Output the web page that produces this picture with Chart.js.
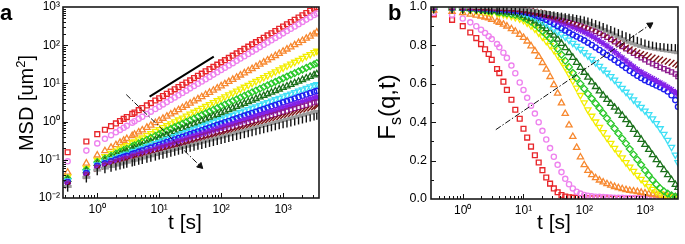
<!DOCTYPE html>
<html><head><meta charset="utf-8">
<script src="https://cdn.jsdelivr.net/npm/chart.js@4.4.1/dist/chart.umd.min.js"></script>
<style>
html,body{margin:0;padding:0;background:#fff;}
body{width:685px;height:244px;overflow:hidden;position:relative;}
canvas{position:absolute;top:0;}
</style>
</head><body>
<canvas id="ca" width="342" height="244" style="left:0px"></canvas>
<canvas id="cb" width="343" height="244" style="left:342px"></canvas>
<script>
// ---------- shared lag times [s] ----------
const times = [0.333,0.667,1,1.33,1.67,2,2.33,2.67,3,3.67,4,4.67,5.33,6.33,7.33,8.67,10,11.5,13.3,15.4,17.8,20.5,23.7,27.4,31.6,36.5,42.2,48.7,56.2,64.9,75,86.6,100,115,133,154,178,205,237,274,316,365,422,487,562,649,750,866,1000,1155,1334,1540,1778,2054,2371,2738,3162,3500];

// ---------- panel a: MSD [um^2] ----------
const msdRed = [0.158,0.302,0.468,0.612,0.758,0.897,1.035,1.179,1.313,1.589,1.722,1.99,2.256,2.648,3.042,3.563,4.074,4.664,5.34,6.11,7.00,8.01,9.17,10.5,12.0,13.8,15.8,18.0,20.7,23.6,27.1,31.0,35.5,40.6,46.5,53.2,61.0,69.8,79.9,91.5,105,120,137,157,180,206,236,270,309,354,405,464,531,608,696,796,912,1003];
const msdViolet = [0.0912,0.174,0.269,0.354,0.441,0.524,0.605,0.692,0.773,0.938,1.019,1.18,1.343,1.581,1.82,2.138,2.455,2.818,3.236,3.715,4.266,4.898,5.623,6.457,7.413,8.511,9.772,11.22,12.88,14.79,16.98,19.5,22.39,25.7,29.51,33.88,38.9,44.67,51.29,58.88,67.61,77.62,89.13,102.3,117.5,134.9,154.9,177.8,204.2,234.4,269.2,309,354.8,407.4,467.7,537,616.6,679];
const msdOrange = [0.0468,0.0813,0.132,0.171,0.210,0.247,0.284,0.321,0.357,0.428,0.463,0.532,0.601,0.701,0.801,0.933,1.062,1.209,1.378,1.570,1.789,2.038,2.322,2.645,3.013,3.433,3.911,4.456,5.077,5.784,6.590,7.506,8.551,9.741,11.10,12.65,14.41,16.41,18.70,21.30,24.27,27.65,31.50,35.89,40.89,46.58,53.07,60.46,68.87,78.47,89.40,101.8,116.0,132.2,150.6,171.6,195.4,219];
const msdYellow = [0.0355,0.0603,0.0977,0.123,0.148,0.171,0.193,0.216,0.237,0.279,0.299,0.338,0.377,0.432,0.487,0.557,0.625,0.702,0.788,0.885,0.994,1.116,1.254,1.408,1.581,1.776,1.994,2.239,2.515,2.824,3.172,3.562,4.000,4.492,5.045,5.665,6.362,7.144,8.023,9.010,10.12,11.36,12.76,14.33,16.09,18.07,20.29,22.79,25.59,28.74,32.27,36.24,40.70,45.71,51.33,57.64,64.71,70.2];
const msdGreen = [0.0324,0.0550,0.0871,0.107,0.127,0.145,0.162,0.179,0.194,0.225,0.240,0.269,0.296,0.335,0.374,0.422,0.469,0.521,0.579,0.643,0.714,0.793,0.881,0.979,1.088,1.208,1.342,1.491,1.657,1.840,2.044,2.272,2.523,2.803,3.114,3.459,3.843,4.270,4.745,5.269,5.854,6.504,7.224,8.025,8.916,9.904,11.00,12.22,13.58,15.09,16.76,18.62,20.68,22.98,25.53,28.35,31.50,33.95];
const msdDarkGreen = [0.0302,0.0513,0.0794,0.0960,0.112,0.126,0.139,0.152,0.165,0.188,0.199,0.221,0.241,0.270,0.298,0.332,0.366,0.402,0.442,0.487,0.536,0.589,0.648,0.713,0.784,0.863,0.949,1.044,1.149,1.264,1.390,1.530,1.683,1.851,2.037,2.240,2.465,2.712,2.983,3.281,3.610,3.971,4.369,4.806,5.288,5.818,6.400,7.041,7.745,8.520,9.372,10.31,11.34,12.48,13.73,15.10,16.61,17.77];
const msdCyan = [0.0282,0.0479,0.0741,0.0878,0.101,0.112,0.123,0.133,0.142,0.161,0.169,0.185,0.200,0.222,0.242,0.268,0.291,0.317,0.345,0.376,0.410,0.446,0.486,0.530,0.577,0.628,0.684,0.745,0.812,0.884,0.963,1.049,1.143,1.245,1.356,1.477,1.609,1.752,1.909,2.079,2.265,2.467,2.687,2.927,3.188,3.472,3.782,4.120,4.487,4.888,5.324,5.799,6.317,6.880,7.494,8.164,8.892,9.44];
const msdBlue = [0.0263,0.0447,0.0692,0.0810,0.0919,0.102,0.111,0.119,0.127,0.142,0.149,0.162,0.175,0.192,0.209,0.229,0.248,0.268,0.291,0.315,0.341,0.369,0.400,0.433,0.469,0.508,0.550,0.596,0.645,0.698,0.756,0.819,0.887,0.961,1.041,1.127,1.220,1.322,1.432,1.550,1.679,1.818,1.969,2.133,2.310,2.501,2.709,2.934,3.177,3.441,3.727,4.036,4.371,4.733,5.127,5.552,6.012,6.36];
const msdPurple = [0.0245,0.0417,0.0646,0.0748,0.0842,0.0924,0.0999,0.107,0.114,0.127,0.132,0.143,0.153,0.168,0.181,0.197,0.212,0.229,0.246,0.265,0.286,0.308,0.332,0.357,0.385,0.415,0.447,0.481,0.518,0.558,0.602,0.648,0.698,0.752,0.810,0.873,0.940,1.013,1.091,1.175,1.266,1.364,1.469,1.583,1.705,1.837,1.979,2.132,2.296,2.474,2.665,2.871,3.093,3.331,3.589,3.866,4.165,4.39];
const msdDarkPurple = [0.0229,0.0398,0.0617,0.0709,0.0792,0.0864,0.0930,0.0994,0.105,0.116,0.121,0.130,0.139,0.151,0.162,0.176,0.189,0.203,0.217,0.233,0.250,0.268,0.287,0.308,0.330,0.354,0.380,0.408,0.437,0.469,0.503,0.539,0.578,0.620,0.665,0.713,0.765,0.820,0.880,0.943,1.012,1.085,1.163,1.248,1.338,1.435,1.539,1.651,1.770,1.898,2.036,2.183,2.342,2.512,2.693,2.888,3.097,3.25];
const msdMaroon = [0.0214,0.0372,0.0575,0.0656,0.0729,0.0792,0.0849,0.0905,0.0954,0.105,0.109,0.117,0.124,0.134,0.144,0.155,0.166,0.177,0.190,0.202,0.216,0.231,0.247,0.264,0.282,0.301,0.322,0.344,0.367,0.392,0.419,0.448,0.479,0.511,0.546,0.584,0.624,0.666,0.712,0.761,0.813,0.868,0.928,0.991,1.059,1.132,1.209,1.292,1.380,1.475,1.576,1.684,1.799,1.922,2.054,2.194,2.344,2.456];
const msdGray = [0.0200,0.0347,0.0537,0.0608,0.0671,0.0725,0.0775,0.0823,0.0865,0.0945,0.0980,0.105,0.111,0.120,0.127,0.137,0.146,0.155,0.165,0.176,0.187,0.199,0.212,0.226,0.240,0.256,0.272,0.290,0.309,0.329,0.350,0.372,0.396,0.422,0.449,0.478,0.509,0.542,0.577,0.614,0.653,0.695,0.740,0.788,0.839,0.893,0.950,1.011,1.076,1.146,1.219,1.298,1.382,1.471,1.566,1.667,1.774,1.854];
const msdBlack = [0.0182,0.0316,0.0490,0.0550,0.0604,0.0650,0.0692,0.0732,0.0768,0.0834,0.0863,0.0920,0.0971,0.104,0.111,0.118,0.126,0.133,0.141,0.150,0.159,0.169,0.179,0.190,0.201,0.213,0.226,0.240,0.255,0.270,0.286,0.304,0.322,0.342,0.362,0.384,0.408,0.432,0.458,0.486,0.516,0.547,0.580,0.615,0.653,0.692,0.734,0.779,0.826,0.876,0.929,0.986,1.045,1.109,1.176,1.247,1.323,1.379];

// ---------- panel b: Fs(q,t) ----------
const fsRed = [0.962,0.933,0.90,0.867,0.838,0.807,0.78,0.755,0.725,0.677,0.656,0.611,0.568,0.517,0.465,0.418,0.366,0.32,0.273,0.228,0.19,0.15,0.112,0.08,0.055,0.035,0.021,0.013,0.009,0.007,0.006,0.005,0.004,0.005,0.003,0.004,0.003,0.002,0.003,0.002,0.003,0.002,0.002,0.003,0.002,0.001,0.002,0.002,0.001,0.002,0.001,0.001,0.002,0.001,0.001,0.001,0.001,0.001];
const fsViolet = [0.97,0.958,0.94,0.92,0.90,0.882,0.865,0.848,0.833,0.807,0.79,0.762,0.735,0.695,0.655,0.607,0.568,0.527,0.486,0.445,0.40,0.355,0.31,0.265,0.22,0.178,0.14,0.105,0.077,0.055,0.038,0.028,0.021,0.017,0.014,0.012,0.011,0.01,0.009,0.008,0.007,0.006,0.006,0.005,0.005,0.004,0.004,0.004,0.003,0.003,0.003,0.002,0.002,0.002,0.002,0.002,0.001,0.001];
const fsOrange = [0.983,0.976,0.97,0.962,0.957,0.952,0.947,0.943,0.935,0.925,0.919,0.91,0.90,0.886,0.873,0.857,0.841,0.822,0.797,0.771,0.742,0.71,0.675,0.637,0.595,0.55,0.50,0.445,0.385,0.325,0.268,0.218,0.178,0.148,0.126,0.11,0.098,0.088,0.079,0.071,0.064,0.058,0.053,0.048,0.044,0.041,0.038,0.034,0.031,0.027,0.024,0.021,0.018,0.016,0.013,0.011,0.009,0.008];
const fsYellow = [0.99,0.99,0.985,0.983,0.98,0.978,0.976,0.974,0.972,0.968,0.966,0.962,0.958,0.952,0.946,0.939,0.93,0.918,0.903,0.886,0.866,0.845,0.822,0.80,0.776,0.748,0.718,0.686,0.652,0.615,0.578,0.54,0.502,0.465,0.432,0.402,0.374,0.347,0.318,0.291,0.265,0.24,0.215,0.19,0.167,0.145,0.124,0.103,0.083,0.066,0.051,0.038,0.027,0.019,0.013,0.009,0.007,0.006];
const fsGreen = [0.995,0.993,0.99,0.988,0.986,0.984,0.982,0.98,0.978,0.975,0.973,0.97,0.967,0.963,0.959,0.953,0.945,0.935,0.923,0.909,0.893,0.875,0.856,0.835,0.81,0.782,0.752,0.72,0.688,0.657,0.628,0.60,0.574,0.548,0.523,0.498,0.473,0.447,0.42,0.393,0.367,0.341,0.315,0.289,0.26,0.232,0.205,0.178,0.15,0.124,0.099,0.076,0.056,0.04,0.028,0.019,0.013,0.011];
const fsDarkGreen = [0.997,0.995,0.993,0.991,0.99,0.988,0.987,0.985,0.984,0.981,0.98,0.977,0.975,0.971,0.968,0.962,0.955,0.947,0.938,0.927,0.915,0.901,0.886,0.87,0.852,0.832,0.81,0.787,0.762,0.737,0.711,0.685,0.659,0.634,0.609,0.585,0.562,0.54,0.518,0.497,0.477,0.457,0.435,0.412,0.388,0.362,0.336,0.31,0.283,0.257,0.23,0.204,0.178,0.152,0.126,0.10,0.075,0.06];
const fsCyan = [0.998,0.997,0.995,0.994,0.993,0.992,0.991,0.99,0.989,0.987,0.986,0.984,0.982,0.979,0.976,0.972,0.968,0.962,0.955,0.946,0.936,0.925,0.913,0.90,0.886,0.872,0.858,0.843,0.828,0.812,0.796,0.78,0.763,0.746,0.728,0.71,0.692,0.674,0.656,0.638,0.62,0.598,0.577,0.557,0.537,0.517,0.497,0.478,0.459,0.44,0.418,0.394,0.367,0.338,0.306,0.27,0.23,0.19];
const fsBlue = [0.998,0.997,0.996,0.995,0.994,0.993,0.993,0.992,0.991,0.99,0.989,0.987,0.986,0.983,0.981,0.978,0.975,0.97,0.965,0.958,0.951,0.943,0.933,0.923,0.912,0.90,0.889,0.878,0.867,0.856,0.846,0.836,0.826,0.814,0.802,0.789,0.776,0.763,0.75,0.737,0.724,0.71,0.696,0.682,0.668,0.655,0.642,0.63,0.619,0.609,0.60,0.591,0.582,0.572,0.56,0.54,0.515,0.48];
const fsPurple = [0.999,0.998,0.997,0.997,0.996,0.996,0.995,0.995,0.994,0.993,0.993,0.992,0.991,0.989,0.987,0.985,0.982,0.978,0.974,0.969,0.963,0.957,0.95,0.943,0.936,0.928,0.92,0.912,0.904,0.896,0.888,0.879,0.87,0.86,0.849,0.837,0.824,0.811,0.797,0.782,0.767,0.751,0.735,0.719,0.703,0.688,0.674,0.661,0.649,0.638,0.627,0.616,0.605,0.594,0.582,0.57,0.557,0.545];
const fsDarkPurple = [1.0,0.999,0.998,0.998,0.997,0.997,0.996,0.996,0.995,0.995,0.994,0.993,0.992,0.991,0.989,0.987,0.984,0.981,0.977,0.973,0.968,0.963,0.957,0.951,0.945,0.939,0.933,0.927,0.921,0.915,0.909,0.903,0.896,0.889,0.881,0.872,0.863,0.853,0.842,0.831,0.819,0.807,0.795,0.783,0.771,0.759,0.747,0.736,0.725,0.714,0.704,0.695,0.686,0.678,0.67,0.661,0.651,0.638];
const fsMaroon = [1.0,1.0,0.999,0.999,0.998,0.998,0.997,0.997,0.996,0.996,0.995,0.994,0.993,0.992,0.991,0.989,0.986,0.983,0.98,0.976,0.972,0.968,0.963,0.958,0.953,0.948,0.943,0.938,0.933,0.928,0.922,0.916,0.91,0.903,0.895,0.887,0.877,0.866,0.854,0.841,0.827,0.813,0.80,0.789,0.779,0.77,0.762,0.755,0.749,0.743,0.737,0.731,0.726,0.72,0.715,0.709,0.703,0.697];
const fsGray = [1.0,1.0,0.999,0.999,0.998,0.998,0.997,0.997,0.996,0.996,0.995,0.995,0.994,0.993,0.992,0.99,0.988,0.986,0.983,0.98,0.977,0.974,0.97,0.966,0.962,0.958,0.954,0.95,0.945,0.94,0.935,0.929,0.922,0.915,0.907,0.899,0.891,0.883,0.874,0.865,0.855,0.845,0.835,0.825,0.816,0.808,0.801,0.795,0.79,0.786,0.783,0.78,0.777,0.774,0.771,0.768,0.765,0.762];
const fsBlack = [0.985,0.985,0.984,0.983,0.983,0.982,0.982,0.981,0.981,0.98,0.98,0.979,0.978,0.977,0.976,0.975,0.974,0.972,0.97,0.968,0.966,0.964,0.962,0.96,0.958,0.955,0.952,0.949,0.946,0.943,0.94,0.936,0.932,0.926,0.92,0.913,0.906,0.898,0.89,0.882,0.874,0.866,0.858,0.85,0.842,0.834,0.826,0.819,0.812,0.806,0.801,0.797,0.794,0.792,0.79,0.789,0.788,0.787];

// ---------- guide lines / arrows ----------
const slopeT = [7, 76];
const slopeMSD = [4.5, 50];
const arrowAT = [2.94, 45.8];
const arrowAMSD = [5.1, 0.069];
const arrowBT = [3.5, 1207];
const arrowBFs = [0.361, 0.907];

// ---------- ticks ----------
const xMajor = [1, 10, 100, 1000];
const xTickLabels = ['10\u2070', '10\u00B9', '10\u00B2', '10\u00B3'];
const yMajorA = [0.01, 0.1, 1, 10, 100, 1000];
const yTickLabelsA = ['10\u207B\u00B2', '10\u207B\u00B9', '10\u2070', '10\u00B9', '10\u00B2', '10\u00B3'];
const yTicksB = [0, 0.1, 0.2, 0.3, 0.4, 0.5, 0.6, 0.7, 0.8, 0.9, 1.0];
const yMajorB = [0, 0.2, 0.4, 0.6, 0.8, 1.0];
const yTickLabelsB = ['0.0', '0.2', '0.4', '0.6', '0.8', '1.0'];

// ---------- styling ----------
const FAM = "'Liberation Sans', Arial, Helvetica, sans-serif";
const seriesStyle = [
  {color:'#e8262b', shape:'rect',     r:3.4, rot:0,   w:1.35},
  {color:'#ee82ee', shape:'circle',   r:2.6, rot:0,   w:1.35},
  {color:'#f7882f', shape:'triangle', r:3.6, rot:0,   w:1.3},
  {color:'#f3ee00', shape:'triangle', r:3.6, rot:180, w:1.3},
  {color:'#29c829', shape:'rectRot',  r:3.4, rot:0,   w:1.3},
  {color:'#1a701a', shape:'triangle', r:3.6, rot:0,   w:1.3},
  {color:'#3fe0f5', shape:'triangle', r:3.6, rot:180, w:1.3},
  {color:'#1f1fef', shape:'circle',   r:2.6, rot:0,   w:1.4},
  {color:'#8420e8', shape:'star',     r:3.4, rot:0,   w:1.3},
  {color:'#8c1a8c', shape:'rect',     r:3.0, rot:0,   w:1.3},
  {color:'#7c1212', shape:'line',     r:4.0, rot:-45, w:1.4},
  {color:'#9c9c9c', shape:'line',     r:4.0, rot:0,   w:3.0},
  {color:'#111111', shape:'line',     r:3.6, rot:90,  w:1.4}
];
const msdSeries = [msdRed,msdViolet,msdOrange,msdYellow,msdGreen,msdDarkGreen,msdCyan,msdBlue,msdPurple,msdDarkPurple,msdMaroon,msdGray,msdBlack];
const fsSeries  = [fsRed,fsViolet,fsOrange,fsYellow,fsGreen,fsDarkGreen,fsCyan,fsBlue,fsPurple,fsDarkPurple,fsMaroon,fsGray,fsBlack];

function seriesDatasets(list) {
  return list.map((vals, k) => {
    const s = seriesStyle[k];
    return {
      data: vals.map((v, i) => ({x: times[i], y: v})),
      showLine: false,
      order: list.length - k,
      pointStyle: s.shape, pointRadius: s.r, pointRotation: s.rot,
      pointBorderColor: s.color, pointBorderWidth: s.w,
      pointBackgroundColor: 'rgba(0,0,0,0)'
    };
  });
}
function pair(ts, vs) { return ts.map((t, i) => ({x: t, y: vs[i]})); }
function arrowDataset(ts, vs, rot) {
  return {
    data: pair(ts, vs), showLine: true, borderColor: '#111', borderWidth: 1,
    borderDash: [6, 2, 1.5, 2], tension: 0, order: -1,
    pointRadius: [0, 3.6], pointStyle: 'triangle', pointRotation: rot,
    pointBackgroundColor: '#111', pointBorderColor: '#111', pointBorderWidth: 1
  };
}

function drawParts(ctx, parts, x, y, rotate) {
  ctx.save();
  ctx.translate(x, y);
  if (rotate) ctx.rotate(-Math.PI / 2);
  ctx.textAlign = 'left';
  ctx.textBaseline = 'alphabetic';
  let total = 0;
  const widths = parts.map(p => { ctx.font = p.size + 'px ' + FAM; const w = ctx.measureText(p.t).width + (p.gap || 0); total += w; return w; });
  let cx = -total / 2;
  parts.forEach((p, i) => { ctx.font = p.size + 'px ' + FAM; ctx.fillText(p.t, cx, p.dy || 0); cx += widths[i]; });
  ctx.restore();
}

function makeDecor(cfg) {
  return {
    id: 'decor',
    afterDraw(chart) {
      const ctx = chart.ctx, a = chart.chartArea, xs = chart.scales.x, ys = chart.scales.y;
      ctx.save();
      ctx.strokeStyle = '#111';
      ctx.lineWidth = 1;
      ctx.beginPath();
      xs.ticks.forEach(t => {
        const px = Math.round(xs.getPixelForValue(t.value)) + 0.5;
        if (px < a.left + 1 || px > a.right - 1) return;
        const L = cfg.xMajor.includes(t.value) ? 5 : 3;
        ctx.moveTo(px, a.bottom); ctx.lineTo(px, a.bottom - L);
      });
      ys.ticks.forEach(t => {
        const py = Math.round(ys.getPixelForValue(t.value)) + 0.5;
        if (py < a.top + 1 || py > a.bottom - 1) return;
        const L = cfg.yMajor.includes(t.value) ? 5 : 3;
        ctx.moveTo(a.left, py); ctx.lineTo(a.left + L, py);
      });
      ctx.stroke();
      ctx.lineWidth = 1.6;
      ctx.strokeStyle = '#1a1a1a';
      ctx.strokeRect(a.left, a.top, a.right - a.left, a.bottom - a.top);
      ctx.fillStyle = '#000';
      drawParts(ctx, cfg.xTitle, cfg.xTitleX, cfg.xTitleY, false);
      drawParts(ctx, cfg.yTitle, cfg.yTitleX, cfg.yTitleY, true);
      ctx.font = 'bold 22px ' + FAM;
      ctx.textAlign = 'left';
      ctx.textBaseline = 'alphabetic';
      ctx.fillText(cfg.letter, cfg.letterX, cfg.letterY);
      ctx.restore();
    }
  };
}

function logMinor(lo, hi) {
  const out = [];
  for (let e = -3; e <= 4; e++) for (let m = 2; m <= 9; m++) {
    const v = +(m * Math.pow(10, e)).toPrecision(3);
    if (v > lo && v < hi) out.push(v);
  }
  return out;
}

const tickFont = {family: FAM, size: 12};

function makeChart(id, cfg) {
  return new Chart(document.getElementById(id), {
    type: 'scatter',
    data: {datasets: cfg.datasets},
    options: {
      responsive: false, animation: false, devicePixelRatio: 1, events: [],
      layout: {padding: {left: 0, right: cfg.padRight, top: 6, bottom: 0}},
      plugins: {legend: {display: false}, tooltip: {enabled: false}},
      scales: {
        x: {
          type: 'logarithmic', min: cfg.xMin, max: cfg.xMax,
          grid: {display: false, drawTicks: false}, border: {display: false},
          ticks: {autoSkip: false, maxRotation: 0, padding: 4, color: '#000', font: tickFont,
            callback: (v) => { const i = xMajor.indexOf(v); return i >= 0 ? xTickLabels[i] : ''; }},
          afterBuildTicks: (s) => { s.ticks = cfg.xTicks.map(v => ({value: v})); },
          afterFit: (s) => { s.height = cfg.xAxisH; s.paddingLeft = 0; s.paddingRight = 0; }
        },
        y: cfg.yScale
      }
    },
    plugins: [makeDecor(cfg.decor)]
  });
}

// ---------- panel a ----------
const xTicksA = xMajor.concat(logMinor(0.28, 3800)).sort((p, q) => p - q);
const yTicksA = yMajorA.concat(logMinor(0.01, 1000)).sort((p, q) => p - q);
makeChart('ca', {
  padRight: 23, xMin: 0.28, xMax: 3800, xTicks: xTicksA, xAxisH: 46,
  datasets: [
    {data: pair(slopeT, slopeMSD), showLine: true, borderColor: '#000', borderWidth: 2, pointRadius: 0, order: -2},
    arrowDataset(arrowAT, arrowAMSD, 134)
  ].concat(seriesDatasets(msdSeries)),
  yScale: {
    type: 'logarithmic', min: 0.01, max: 1000,
    grid: {display: false, drawTicks: false}, border: {display: false},
    ticks: {autoSkip: false, padding: 3, color: '#000', font: tickFont,
      callback: (v) => { const i = yMajorA.indexOf(v); return i >= 0 ? yTickLabelsA[i] : ''; }},
    afterBuildTicks: (s) => { s.ticks = yTicksA.map(v => ({value: v})); },
    afterFit: (s) => { s.width = 63; s.paddingTop = 0; s.paddingBottom = 0; }
  },
  decor: {
    xMajor: xMajor, yMajor: yMajorA, letter: 'a', letterX: 0, letterY: 19.5,
    xTitle: [{t: 't [s]', size: 21}], xTitleX: 185, xTitleY: 229,
    yTitle: [{t: 'MSD [um', size: 20}, {t: '2', size: 13, dy: -8}, {t: ']', size: 20}], yTitleX: 33, yTitleY: 103
  }
});

// ---------- panel b ----------
const xTicksB = xMajor.concat(logMinor(0.31, 3500)).sort((p, q) => p - q);
makeChart('cb', {
  padRight: 1, xMin: 0.31, xMax: 3500, xTicks: xTicksB, xAxisH: 45,
  datasets: [arrowDataset(arrowBT, arrowBFs, 56)].concat(seriesDatasets(fsSeries)),
  yScale: {
    type: 'linear', min: 0, max: 1,
    grid: {display: false, drawTicks: false}, border: {display: false},
    ticks: {autoSkip: false, padding: 4, color: '#000', font: {family: FAM, size: 12.5},
      callback: (v) => { const i = yMajorB.indexOf(v); return i >= 0 ? yTickLabelsB[i] : ''; }},
    afterBuildTicks: (s) => { s.ticks = yTicksB.map(v => ({value: v})); },
    afterFit: (s) => { s.width = 89; s.paddingTop = 0; s.paddingBottom = 0; }
  },
  decor: {
    xMajor: xMajor, yMajor: yMajorB, letter: 'b', letterX: 46, letterY: 19.5,
    xTitle: [{t: 't [s]', size: 21}], xTitleX: 212, xTitleY: 229,
    yTitle: [{t: 'F', size: 24}, {t: 's', size: 16, dy: 6}, {t: '(q,t)', size: 24}], yTitleX: 53, yTitleY: 107
  }
});
</script>
</body></html>
